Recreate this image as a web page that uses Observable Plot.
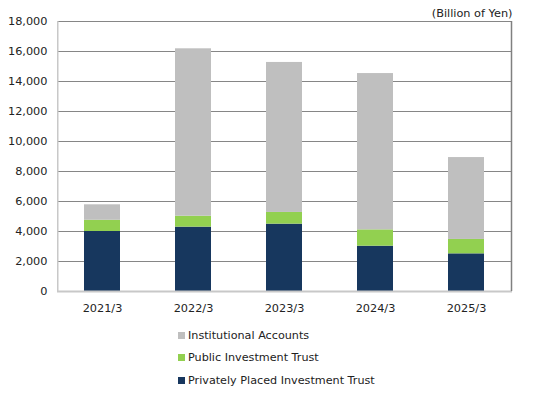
<!DOCTYPE html>
<html>
<head>
<meta charset="utf-8">
<script src="https://cdn.jsdelivr.net/npm/d3@7"></script>
<script src="https://cdn.jsdelivr.net/npm/@observablehq/plot@0.6"></script>
<style>
  html, body { margin: 0; padding: 0; background: #fff; }
  body { width: 540px; height: 394px; position: relative; overflow: hidden; font-family: "DejaVu Sans", Verdana, sans-serif; }
  #legend { position: absolute; left: 178px; top: 324px; font-size: 11.2px; color: #222; }
  #legend .item { display: flex; align-items: center; height: 22.5px; }
  #legend .sw { width: 7px; height: 7px; margin-right: 3px; }
</style>
</head>
<body>
<div id="chart"></div>
<div id="legend"></div>
<script>
const years = ["2021/3", "2022/3", "2023/3", "2024/3", "2025/3"];
const privatelyPlaced = [4000, 4290, 4490, 3020, 2510];
const publicTrust = [750, 730, 780, 1090, 960];
const institutional = [1030, 11160, 10000, 10420, 5460];
const seriesNames = ["Privately Placed Investment Trust", "Public Investment Trust", "Institutional Accounts"];
const seriesColors = ["#17375e", "#92d050", "#bfbfbf"];
const yTicks = [0, 2000, 4000, 6000, 8000, 10000, 12000, 14000, 16000, 18000];
const unitLabel = "(Billion of Yen)";

const seriesValues = [privatelyPlaced, publicTrust, institutional];
const data = [];
seriesNames.forEach((s, si) => years.forEach((y, i) => data.push({year: y, series: s, value: seriesValues[si][i]})));

const chart = Plot.plot({
  width: 540,
  height: 322,
  marginTop: 21,
  marginBottom: 31,
  marginLeft: 57,
  marginRight: 28,
  style: {fontFamily: "'DejaVu Sans', Verdana, sans-serif", fontSize: "11.3px", color: "#222", background: "#fff"},
  x: {domain: years, paddingInner: 0.6, paddingOuter: 0.3, label: null, tickSize: 0, tickPadding: 12},
  y: {domain: [0, 18000], ticks: yTicks, tickFormat: d3.format(","), label: null, tickSize: 0, tickPadding: 10},
  color: {domain: seriesNames, range: seriesColors},
  marks: [
    Plot.ruleY(yTicks.filter(d => d > 0), {stroke: "#868686", strokeWidth: 1}),
    Plot.barY(data, {x: "year", y: "value", fill: "series", order: seriesNames}),
    Plot.ruleY([0], {stroke: "#c8c8c8", strokeWidth: 2}),
    Plot.text([unitLabel], {frameAnchor: "top-right", textAnchor: "end", dy: -13, dx: 0})
  ]
});
document.getElementById("chart").appendChild(chart);

// side borders of the plot frame
const svg = d3.select(chart);
const ys = chart.scale("y");
const right = 540 - 28, left = 57;
svg.append("line").attr("x1", right - 0.5).attr("x2", right - 0.5).attr("y1", ys.apply(18000)).attr("y2", ys.apply(0)).attr("stroke", "#808080").attr("stroke-width", 1.5);
svg.append("line").attr("x1", left + 0.75).attr("x2", left + 0.75).attr("y1", ys.apply(18000)).attr("y2", ys.apply(0)).attr("stroke", "#c8c8c8").attr("stroke-width", 1.5);

const legend = document.getElementById("legend");
[2, 1, 0].forEach(i => {
  const d = document.createElement("div");
  d.className = "item";
  d.innerHTML = `<span class="sw" style="background:${seriesColors[i]}"></span><span>${seriesNames[i]}</span>`;
  legend.appendChild(d);
});
</script>
</body>
</html>
